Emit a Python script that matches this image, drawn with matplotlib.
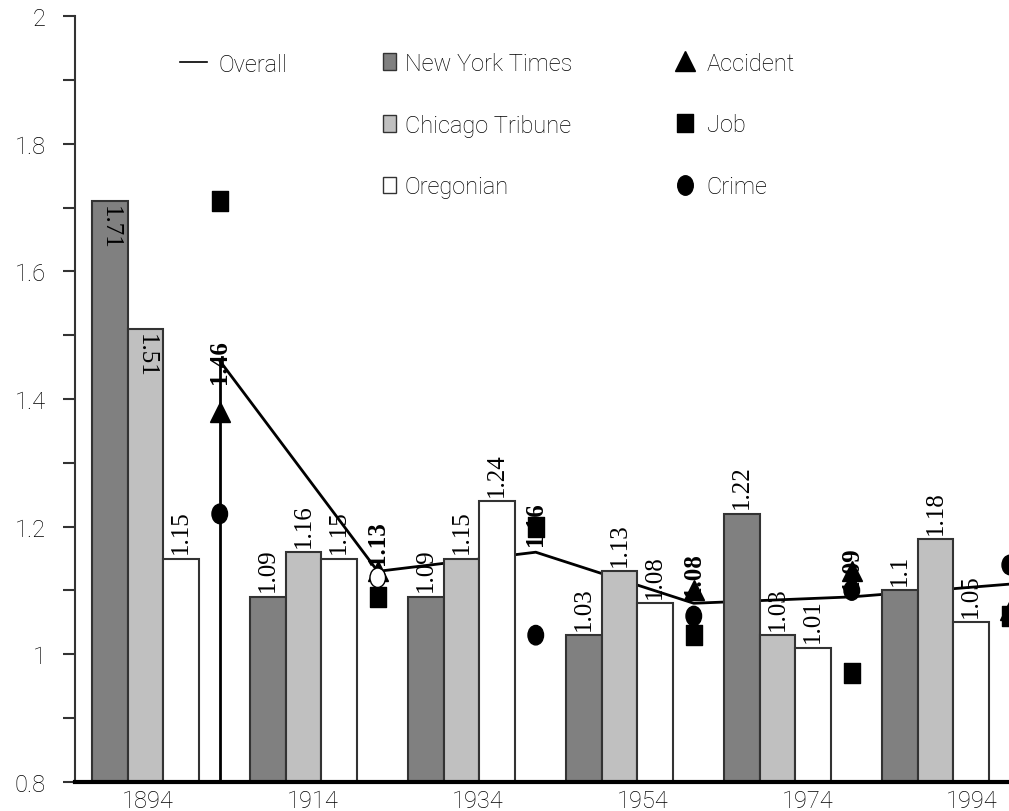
import numpy as np
import matplotlib.pyplot as plt
from matplotlib.lines import Line2D
from matplotlib.patches import Patch
from matplotlib.path import Path
from matplotlib.font_manager import FontProperties

# data
years = ['1894', '1914', '1934', '1954', '1974', '1994']
nyt = [1.71, 1.09, 1.09, 1.03, 1.22, 1.10]
chicago = [1.51, 1.16, 1.15, 1.13, 1.03, 1.18]
oregonian = [1.15, 1.15, 1.24, 1.08, 1.01, 1.05]
overall = [1.46, 1.13, 1.16, 1.08, 1.09, 1.11]
accident = [1.38, 1.13, np.nan, 1.10, 1.13, 1.07]
job = [1.71, 1.09, 1.20, 1.03, 0.97, 1.06]
crime = [1.22, 1.12, 1.03, 1.06, 1.10, 1.14]

# styles
bar_colors = ['#808080', '#c0c0c0', '#ffffff']
crime_face = ['black', 'white', 'black', 'black', 'black', 'black']
sans = FontProperties(family='Roboto', weight='light', size=17)
serif = 'Liberation Serif'

ellipse = Path(Path.unit_circle().vertices * [0.8, 1.0], Path.unit_circle().codes)
tall_sq = Path([(-0.43, -0.5), (0.43, -0.5), (0.43, 0.5), (-0.43, 0.5), (-0.43, -0.5)],
               [Path.MOVETO, Path.LINETO, Path.LINETO, Path.LINETO, Path.CLOSEPOLY])

fig = plt.figure(figsize=(10.09, 8.12), dpi=100)
ax = fig.add_axes([75 / 1009, 29 / 812, 934 / 1009, 766 / 812])

x = np.arange(len(years))
xm = x + 0.47
w = 0.225

# overall line (behind the bars)
ax.vlines(xm[0], 0.8, overall[0], color='black', lw=2, zorder=1)
ax.plot(xm, overall, color='black', lw=2, zorder=1)

for k, (vals, col) in enumerate(zip([nyt, chicago, oregonian], bar_colors)):
    xs = x + (k - 1) * w
    ax.bar(xs, vals, w, color=col, edgecolor='#333333', lw=1.5, zorder=2)
    for xi, v in zip(xs, vals):
        if v > 1.4:
            ax.annotate(f'{v:g}', (xi, v), xytext=(0, -3), textcoords='offset points',
                        rotation=270, ha='center', va='top', family=serif, fontsize=18, zorder=6)
        else:
            ax.annotate(f'{v:g}', (xi, v), xytext=(0, 4), textcoords='offset points',
                        rotation=90, ha='center', va='bottom', family=serif, fontsize=18, zorder=6)

# theme markers
ax.plot(xm, accident, ls='none', marker='^', ms=14, color='black', zorder=3)
ax.plot(xm, job, ls='none', marker=tall_sq, ms=14, color='black', zorder=4)
ax.scatter(xm, crime, marker=ellipse, s=14 ** 2, facecolors=crime_face,
           edgecolors='black', linewidths=1, zorder=5)

for i, (xi, v) in enumerate(zip(xm, overall)):
    ax.annotate(f'{v:g}', (xi, v), xytext=(0, 0 if i == 0 else 5), textcoords='offset points',
                rotation=90, ha='center', va='center' if i == 0 else 'bottom',
                family=serif, fontsize=18, fontweight='bold', zorder=6)

ax.set_xlim(-0.446, 5.465)
ax.set_ylim(0.8, 2.0)

yt = np.round(np.arange(0.8, 2.01, 0.2), 1)
ax.set_yticks(yt)
ax.set_yticklabels([f'{t:g}' for t in yt])
ax.set_yticks(np.round(np.arange(0.9, 2.0, 0.2), 1), minor=True)
ax.tick_params(axis='y', which='both', length=9, width=1.5, color='#333333', pad=12)
for lab in ax.get_yticklabels():
    lab.set_fontproperties(sans)

ax.set_xticks(x * 1.043 + 0.016)
ax.set_xticklabels(years)
ax.tick_params(axis='x', length=0, pad=5)
for lab in ax.get_xticklabels():
    lab.set_fontproperties(sans)

for s in ['top', 'right']:
    ax.spines[s].set_visible(False)
ax.spines['bottom'].set_linewidth(3)
ax.spines['left'].set_linewidth(1.5)
ax.spines['left'].set_color('#333333')

common = dict(frameon=False, borderpad=0, borderaxespad=0, prop=sans,
              bbox_transform=fig.transFigure, labelspacing=1.65)

leg1 = ax.legend([Line2D([], [], color='black', lw=1.2)], ['Overall'], loc='center left',
                 bbox_to_anchor=(180 / 1009, 1 - 65 / 812), handlelength=1.15,
                 handletextpad=0.5, **common)
ax.add_artist(leg1)

paper_handles = [Patch(facecolor=c, edgecolor='#333333', lw=1) for c in bar_colors]
leg2 = ax.legend(paper_handles, ['New York Times', 'Chicago Tribune', 'Oregonian'],
                 loc='center left', bbox_to_anchor=(383 / 1009, 1 - 126 / 812),
                 handlelength=0.55, handleheight=0.7, handletextpad=0.37, **common)
ax.add_artist(leg2)

theme_handles = [Line2D([], [], ls='none', marker='^', ms=14, color='black'),
                 Line2D([], [], ls='none', marker=tall_sq, ms=13, color='black'),
                 Line2D([], [], ls='none', marker=ellipse, ms=14, color='black')]
ax.legend(theme_handles, ['Accident', 'Job', 'Crime'], loc='center left',
          bbox_to_anchor=(676 / 1009, 1 - 126 / 812), handlelength=0.8,
          handletextpad=0.5, **common)

fig.savefig('out.png', dpi=100)
